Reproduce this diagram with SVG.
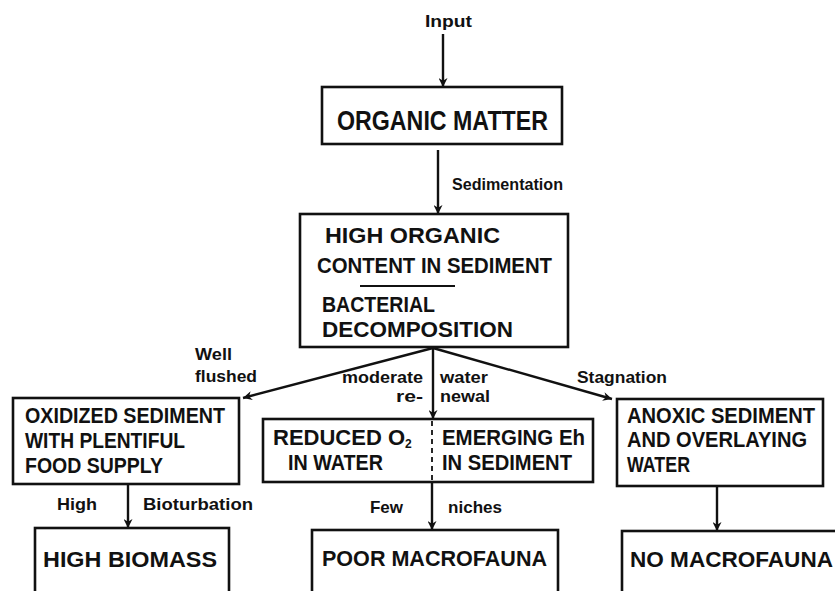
<svg xmlns="http://www.w3.org/2000/svg" width="835" height="591" viewBox="0 0 835 591">
<style>
.box{fill:#fff;stroke:#111;stroke-width:2.6}
.bt{font-family:"Liberation Sans",Arial,sans-serif;font-size:22px;font-weight:bold;fill:#111}
.lb{font-family:"Liberation Sans",Arial,sans-serif;font-size:17px;font-weight:bold;fill:#111}
.cn{fill:none;stroke:#111;stroke-width:2.4}
</style>
<defs>
<marker id="ah2" viewBox="0 0 10 10" refX="10" refY="5" markerWidth="10" markerHeight="9" orient="auto" markerUnits="userSpaceOnUse">
<path d="M0,0 L10,5 L0,10 L3,5 z" fill="#111"/>
</marker>
</defs>
<rect width="835" height="591" fill="#fff"/>
<g id="connectors">
<line class="cn" x1="443" y1="34" x2="443" y2="87" marker-end="url(#ah2)"/>
<line class="cn" x1="438" y1="150" x2="438" y2="214" marker-end="url(#ah2)"/>
<line class="cn" x1="433" y1="348" x2="243" y2="398" marker-end="url(#ah2)"/>
<line class="cn" x1="433" y1="348" x2="433" y2="419" marker-end="url(#ah2)"/>
<line class="cn" x1="433" y1="348" x2="612" y2="399" marker-end="url(#ah2)"/>
<line class="cn" x1="128" y1="484" x2="128" y2="528" marker-end="url(#ah2)"/>
<line class="cn" x1="432" y1="482" x2="432" y2="530" marker-end="url(#ah2)"/>
<line class="cn" x1="717" y1="486" x2="717" y2="531" marker-end="url(#ah2)"/>
<text class="lb" x="425" y="27" textLength="47" lengthAdjust="spacingAndGlyphs">Input</text>
<text class="lb" x="452" y="190" textLength="111" lengthAdjust="spacingAndGlyphs">Sedimentation</text>
<text class="lb" x="195" y="360" textLength="37" lengthAdjust="spacingAndGlyphs">Well</text>
<text class="lb" x="195" y="382" textLength="62" lengthAdjust="spacingAndGlyphs">flushed</text>
<text class="lb" x="342" y="383" textLength="81" lengthAdjust="spacingAndGlyphs">moderate</text>
<text class="lb" x="396" y="402" textLength="27" lengthAdjust="spacingAndGlyphs">re-</text>
<text class="lb" x="440" y="383" textLength="48" lengthAdjust="spacingAndGlyphs">water</text>
<text class="lb" x="440" y="402" textLength="50" lengthAdjust="spacingAndGlyphs">newal</text>
<text class="lb" x="577" y="383" textLength="90" lengthAdjust="spacingAndGlyphs">Stagnation</text>
<text class="lb" x="57" y="510" textLength="40" lengthAdjust="spacingAndGlyphs">High</text>
<text class="lb" x="143" y="510" textLength="110" lengthAdjust="spacingAndGlyphs">Bioturbation</text>
<text class="lb" x="370" y="513" textLength="33" lengthAdjust="spacingAndGlyphs">Few</text>
<text class="lb" x="448" y="513" textLength="54" lengthAdjust="spacingAndGlyphs">niches</text>
</g>
<g id="organic-matter">
<rect class="box" x="322" y="87" width="240" height="57"/>
<text class="bt" x="337" y="130" textLength="211" lengthAdjust="spacingAndGlyphs" style="font-size:27px">ORGANIC  MATTER</text>
</g>
<g id="high-organic">
<rect class="box" x="300" y="214" width="268" height="133"/>
<text class="bt" x="325" y="243" textLength="175" lengthAdjust="spacingAndGlyphs">HIGH  ORGANIC</text>
<text class="bt" x="317" y="273" textLength="235" lengthAdjust="spacingAndGlyphs">CONTENT  IN  SEDIMENT</text>
<line x1="360" y1="286" x2="455" y2="286" stroke="#111" stroke-width="2"/>
<text class="bt" x="322" y="312" textLength="113" lengthAdjust="spacingAndGlyphs">BACTERIAL</text>
<text class="bt" x="322" y="337" textLength="191" lengthAdjust="spacingAndGlyphs">DECOMPOSITION</text>
</g>
<g id="oxidized">
<rect class="box" x="13" y="398" width="226" height="86"/>
<text class="bt" x="25" y="423" textLength="200" lengthAdjust="spacingAndGlyphs">OXIDIZED  SEDIMENT</text>
<text class="bt" x="25" y="448" textLength="160" lengthAdjust="spacingAndGlyphs">WITH  PLENTIFUL</text>
<text class="bt" x="25" y="473" textLength="138" lengthAdjust="spacingAndGlyphs">FOOD  SUPPLY</text>
</g>
<g id="reduced">
<rect class="box" x="263" y="419" width="330" height="63"/>
<line x1="432" y1="421" x2="432" y2="480" stroke="#111" stroke-width="1.8" stroke-dasharray="5,4"/>
<text class="bt" x="273" y="445">REDUCED  O<tspan font-size="12" dy="3">2</tspan></text>
<text class="bt" x="288" y="470" textLength="95" lengthAdjust="spacingAndGlyphs">IN  WATER</text>
<text class="bt" x="442" y="445" textLength="143" lengthAdjust="spacingAndGlyphs">EMERGING  Eh</text>
<text class="bt" x="442" y="470" textLength="130" lengthAdjust="spacingAndGlyphs">IN  SEDIMENT</text>
</g>
<g id="anoxic">
<rect class="box" x="617" y="399" width="206" height="87"/>
<text class="bt" x="627" y="423" textLength="188" lengthAdjust="spacingAndGlyphs">ANOXIC  SEDIMENT</text>
<text class="bt" x="627" y="447" textLength="180" lengthAdjust="spacingAndGlyphs">AND  OVERLAYING</text>
<text class="bt" x="627" y="472" textLength="63" lengthAdjust="spacingAndGlyphs">WATER</text>
</g>
<g id="high-biomass">
<rect class="box" x="35" y="528" width="194" height="80"/>
<text class="bt" x="43" y="567" textLength="174" lengthAdjust="spacingAndGlyphs">HIGH  BIOMASS</text>
</g>
<g id="poor-macrofauna">
<rect class="box" x="312" y="530" width="246" height="80"/>
<text class="bt" x="322" y="566" textLength="225" lengthAdjust="spacingAndGlyphs">POOR  MACROFAUNA</text>
</g>
<g id="no-macrofauna">
<rect class="box" x="622" y="531" width="240" height="80"/>
<text class="bt" x="630" y="567" textLength="203" lengthAdjust="spacingAndGlyphs">NO MACROFAUNA</text>
</g>
</svg>
